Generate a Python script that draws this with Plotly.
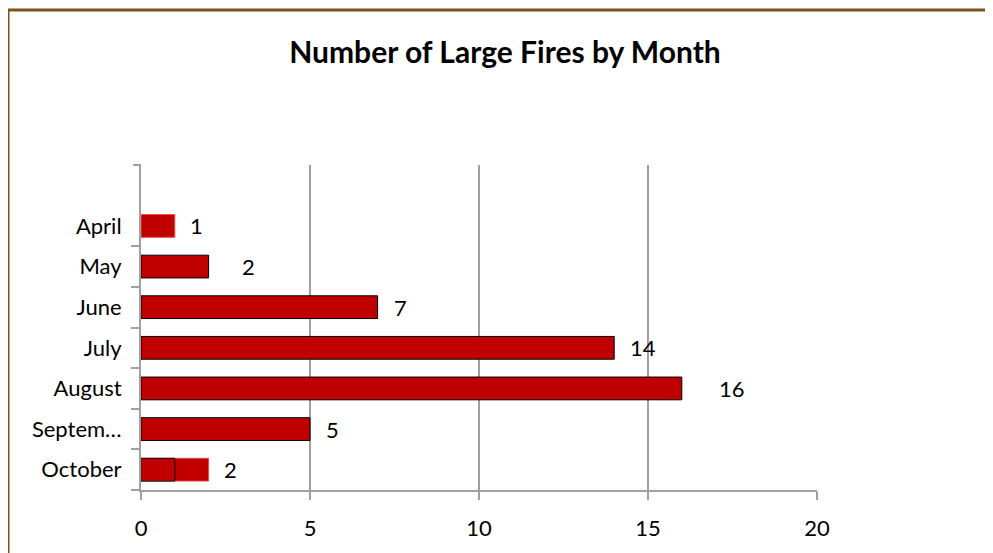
import plotly.graph_objects as go

months = ["April", "May", "June", "July", "August", "September", "October"]
month_labels = ["April", "May", "June", "July", "August", "Septem…", "October"]
fires = [1, 2, 7, 14, 16, 5, 2]
# stray outline box drawn over the October bar in the original
october_box = [None, None, None, None, None, None, 1]
x_ticks = [0, 5, 10, 15, 20]

label_xshift = [22, 40, 23, 29, 50, 22, 22]
bar_edge = ["#e05050", "black", "black", "black", "black", "black", "#e05050"]

FONT = "Lato, Carlito, Calibri, sans-serif"

fig = go.Figure()
fig.add_trace(go.Bar(
    y=months, x=fires, orientation="h",
    marker=dict(color="#C00000", line=dict(color=bar_edge, width=1)),
    width=0.56, showlegend=False, hoverinfo="x+y",
))
fig.add_trace(go.Bar(
    y=months, x=october_box, orientation="h",
    marker=dict(color="rgba(0,0,0,0)", line=dict(color="black", width=1)),
    width=0.56, showlegend=False, hoverinfo="skip",
))

for m, v, dx in zip(months, fires, label_xshift):
    fig.add_annotation(x=v, y=m, text=str(v), showarrow=False,
                       xanchor="center", yanchor="middle", xshift=dx,
                       font=dict(size=22, color="black", family=FONT))

OFF = 8  # page body margin
L, R, T, B = 141 - OFF, 817 - OFF, 165 - OFF, 490 - OFF
W, H = 993, 553
pw, ph = R - L, B - T
fig.add_shape(type="rect", xref="paper", yref="paper",
              x0=(8 - OFF - L) / pw, x1=(W + 20 - L) / pw,
              y0=(B - (H + 20)) / ph, y1=(B - (10 - OFF)) / ph,
              line=dict(color="#7a5418", width=3), fillcolor="rgba(0,0,0,0)", layer="below")
# top tick mark on the category axis
fig.add_shape(type="line", xref="paper", yref="paper",
              x0=-8 / pw, x1=0, y0=1, y1=1,
              line=dict(color="#a0a0a0", width=2))

fig.update_layout(
    width=W, height=H,
    margin=dict(l=L, r=W - R, t=T, b=H - B, pad=0),
    paper_bgcolor="white", plot_bgcolor="white",
    barmode="overlay",
    title=dict(text="<b>Number of Large Fires by Month</b>", x=(505 - OFF) / W, xanchor="center",
               y=1 - (52 - OFF) / H, yanchor="middle",
               font=dict(size=30, color="black", family=FONT)),
    font=dict(family=FONT, size=22, color="black"),
    xaxis=dict(range=[0, 20], tickvals=x_ticks, showgrid=True, gridcolor="#a0a0a0", gridwidth=2,
               showline=True, linecolor="#a0a0a0", linewidth=2,
               ticks="outside", ticklen=8, tickcolor="#a0a0a0", tickwidth=2,
               tickfont=dict(size=22, family=FONT), ticklabelstandoff=10,
               zeroline=False, fixedrange=True),
    yaxis=dict(type="category", categoryarray=months[::-1], range=[-0.5, 7.5],
               tickmode="array", tickvals=months, ticktext=month_labels,
               tickson="boundaries", ticks="outside", ticklen=8, tickcolor="#a0a0a0", tickwidth=2,
               showline=True, linecolor="#a0a0a0", linewidth=2, showgrid=False,
               tickfont=dict(size=22, family=FONT), ticklabelstandoff=13, fixedrange=True),
)

fig.write_html("out.html")
